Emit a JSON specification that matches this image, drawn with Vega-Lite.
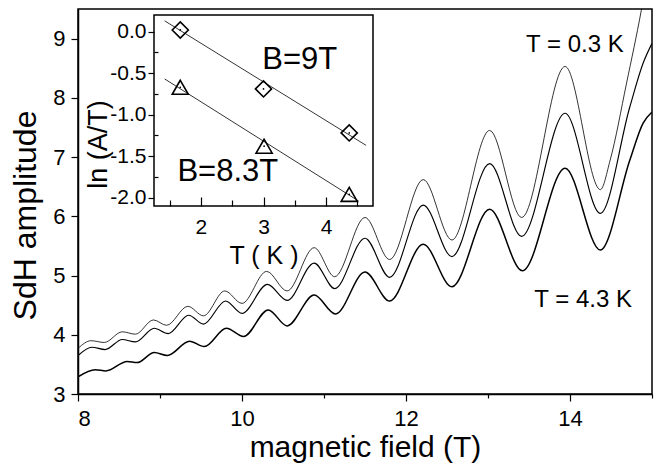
{
  "$schema": "https://vega.github.io/schema/vega-lite/v6.json",
  "width": 574,
  "height": 385,
  "autosize": "none",
  "padding": {"left": 78, "top": 9, "right": 7, "bottom": 74},
  "config": {
    "font": "Liberation Sans",
    "view": {"stroke": "black", "strokeWidth": 1.5},
    "axis": {"domainColor": "black", "domainWidth": 1.5, "tickColor": "black", "tickWidth": 1.2, "labelColor": "black", "titleColor": "black", "grid": false, "titleFontWeight": "normal", "labelFont": "Liberation Sans", "titleFont": "Liberation Sans", "labelOverlap": false}
  },
  "datasets": {
    "curves": [
      {"B": 8.0, "amp": 3.77, "series": "0.3 K"}, {"B": 8.16, "amp": 3.90, "series": "0.3 K"}, {"B": 8.32, "amp": 3.87, "series": "0.3 K"}, {"B": 8.54, "amp": 4.05, "series": "0.3 K"}, {"B": 8.70, "amp": 4.01, "series": "0.3 K"}, {"B": 8.92, "amp": 4.25, "series": "0.3 K"}, {"B": 9.08, "amp": 4.16, "series": "0.3 K"}, {"B": 9.34, "amp": 4.48, "series": "0.3 K"}, {"B": 9.53, "amp": 4.32, "series": "0.3 K"}, {"B": 9.79, "amp": 4.74, "series": "0.3 K"}, {"B": 10.0, "amp": 4.53, "series": "0.3 K"}, {"B": 10.30, "amp": 5.07, "series": "0.3 K"}, {"B": 10.55, "amp": 4.74, "series": "0.3 K"}, {"B": 10.88, "amp": 5.47, "series": "0.3 K"}, {"B": 11.13, "amp": 4.98, "series": "0.3 K"}, {"B": 11.50, "amp": 5.98, "series": "0.3 K"}, {"B": 11.80, "amp": 5.27, "series": "0.3 K"}, {"B": 12.21, "amp": 6.62, "series": "0.3 K"}, {"B": 12.56, "amp": 5.60, "series": "0.3 K"}, {"B": 13.02, "amp": 7.45, "series": "0.3 K"}, {"B": 13.41, "amp": 5.98, "series": "0.3 K"}, {"B": 13.94, "amp": 8.53, "series": "0.3 K"}, {"B": 14.37, "amp": 6.45, "series": "0.3 K"}, {"B": 14.49, "amp": 6.95, "series": "0.3 K"}, {"B": 14.69, "amp": 8.25, "series": "0.3 K"}, {"B": 14.87, "amp": 9.48, "series": "0.3 K"}, {"B": 14.95, "amp": 10.1, "series": "0.3 K"},
      {"B": 8.0, "amp": 3.65, "series": "mid"}, {"B": 8.17, "amp": 3.79, "series": "mid"}, {"B": 8.33, "amp": 3.75, "series": "mid"}, {"B": 8.54, "amp": 3.92, "series": "mid"}, {"B": 8.70, "amp": 3.88, "series": "mid"}, {"B": 8.93, "amp": 4.11, "series": "mid"}, {"B": 9.10, "amp": 4.02, "series": "mid"}, {"B": 9.35, "amp": 4.33, "series": "mid"}, {"B": 9.53, "amp": 4.18, "series": "mid"}, {"B": 9.80, "amp": 4.57, "series": "mid"}, {"B": 10.0, "amp": 4.36, "series": "mid"}, {"B": 10.31, "amp": 4.85, "series": "mid"}, {"B": 10.55, "amp": 4.58, "series": "mid"}, {"B": 10.88, "amp": 5.21, "series": "mid"}, {"B": 11.13, "amp": 4.78, "series": "mid"}, {"B": 11.50, "amp": 5.63, "series": "mid"}, {"B": 11.80, "amp": 4.97, "series": "mid"}, {"B": 12.21, "amp": 6.19, "series": "mid"}, {"B": 12.56, "amp": 5.32, "series": "mid"}, {"B": 13.02, "amp": 6.89, "series": "mid"}, {"B": 13.41, "amp": 5.66, "series": "mid"}, {"B": 13.94, "amp": 7.74, "series": "mid"}, {"B": 14.37, "amp": 6.05, "series": "mid"}, {"B": 14.73, "amp": 7.85, "series": "mid"}, {"B": 14.89, "amp": 8.58, "series": "mid"}, {"B": 15.0, "amp": 8.92, "series": "mid"},
      {"B": 8.0, "amp": 3.29, "series": "4.3 K"}, {"B": 8.21, "amp": 3.41, "series": "4.3 K"}, {"B": 8.34, "amp": 3.39, "series": "4.3 K"}, {"B": 8.60, "amp": 3.55, "series": "4.3 K"}, {"B": 8.72, "amp": 3.53, "series": "4.3 K"}, {"B": 8.93, "amp": 3.70, "series": "4.3 K"}, {"B": 9.09, "amp": 3.65, "series": "4.3 K"}, {"B": 9.36, "amp": 3.89, "series": "4.3 K"}, {"B": 9.54, "amp": 3.80, "series": "4.3 K"}, {"B": 9.81, "amp": 4.11, "series": "4.3 K"}, {"B": 10.02, "amp": 3.97, "series": "4.3 K"}, {"B": 10.32, "amp": 4.42, "series": "4.3 K"}, {"B": 10.55, "amp": 4.15, "series": "4.3 K"}, {"B": 10.88, "amp": 4.67, "series": "4.3 K"}, {"B": 11.14, "amp": 4.35, "series": "4.3 K"}, {"B": 11.50, "amp": 5.06, "series": "4.3 K"}, {"B": 11.80, "amp": 4.57, "series": "4.3 K"}, {"B": 12.21, "amp": 5.53, "series": "4.3 K"}, {"B": 12.56, "amp": 4.81, "series": "4.3 K"}, {"B": 13.02, "amp": 6.12, "series": "4.3 K"}, {"B": 13.42, "amp": 5.08, "series": "4.3 K"}, {"B": 13.94, "amp": 6.81, "series": "4.3 K"}, {"B": 14.37, "amp": 5.43, "series": "4.3 K"}, {"B": 14.73, "amp": 6.95, "series": "4.3 K"}, {"B": 14.89, "amp": 7.57, "series": "4.3 K"}, {"B": 15.0, "amp": 7.76, "series": "4.3 K"}
    ],
    "points": [
      {"T": 1.67, "lnAT": 0.02, "field": "9T"}, {"T": 3.0, "lnAT": -0.69, "field": "9T"}, {"T": 4.37, "lnAT": -1.22, "field": "9T"},
      {"T": 1.67, "lnAT": -0.67, "field": "8.3T"}, {"T": 3.01, "lnAT": -1.38, "field": "8.3T"}, {"T": 4.37, "lnAT": -1.96, "field": "8.3T"}
    ],
    "fits": [
      {"T": 1.42, "lnAT": 0.13, "field": "9T"}, {"T": 4.64, "lnAT": -1.37, "field": "9T"},
      {"T": 1.42, "lnAT": -0.57, "field": "8.3T"}, {"T": 4.52, "lnAT": -2.04, "field": "8.3T"}
    ],
    "one": [{}]
  },
  "layer": [
    {
      "layer": [
        {
          "data": {"name": "curves"},
          "mark": {"type": "line", "interpolate": "monotone", "clip": true, "color": "black"},
          "encoding": {
            "x": {"field": "B", "type": "quantitative", "title": "magnetic field (T)",
              "scale": {"domain": [8, 15], "nice": false, "zero": false},
              "axis": {"orient": "bottom", "values": [8, 9, 10, 11, 12, 13, 14, 15], "format": "d",
                "labelExpr": "datum.value % 2 == 0 ? datum.label : ''",
                "tickSize": {"condition": {"test": "datum.value % 2 == 0", "value": 7}, "value": 4},
                "labelFontSize": 22, "labelPadding": 7, "titleFontSize": 30, "titleY": 53, "titleBaseline": "middle"}},
            "y": {"field": "amp", "type": "quantitative", "title": "SdH amplitude",
              "scale": {"domain": [3, 9.5], "nice": false, "zero": false},
              "axis": {"orient": "left", "values": [3, 3.5, 4, 4.5, 5, 5.5, 6, 6.5, 7, 7.5, 8, 8.5, 9], "format": "d",
                "labelExpr": "datum.value % 1 == 0 ? datum.label : ''",
                "tickSize": {"condition": {"test": "datum.value % 1 == 0", "value": 7}, "value": 4},
                "labelFontSize": 22, "labelPadding": 6, "titleFontSize": 32, "titleX": -53, "titleY": 206, "titleBaseline": "middle"}},
            "detail": {"field": "series"},
            "strokeWidth": {"field": "series", "type": "nominal", "scale": {"domain": ["0.3 K", "mid", "4.3 K"], "range": [0.8, 1.5, 2.1]}, "legend": null}
          }
        },
        {
          "data": {"name": "one"},
          "mark": {"type": "text", "fontSize": 24, "align": "center", "baseline": "middle", "color": "black"},
          "encoding": {"x": {"datum": 14.06, "type": "quantitative"}, "y": {"datum": 8.90, "type": "quantitative"}, "text": {"value": "T = 0.3 K"}}
        },
        {
          "data": {"name": "one"},
          "mark": {"type": "text", "fontSize": 24, "align": "center", "baseline": "middle", "color": "black"},
          "encoding": {"x": {"datum": 14.16, "type": "quantitative"}, "y": {"datum": 4.59, "type": "quantitative"}, "text": {"value": "T = 4.3 K"}}
        }
      ]
    },
    {
      "layer": [
        {
          "data": {"name": "fits"},
          "mark": {"type": "line", "color": "black", "strokeWidth": 0.8},
          "encoding": {
            "x": {"field": "T", "type": "quantitative", "title": "T ( K )",
              "scale": {"domain": [1.25, 4.75], "range": [76, 295], "nice": false, "zero": false},
              "axis": {"orient": "bottom", "offset": -188, "zindex": 1, "values": [1.5, 2, 2.5, 3, 3.5, 4, 4.5],
                "labelExpr": "datum.value % 1 == 0 ? format(datum.value, 'd') : ''",
                "labelOverlap": false, "labelBound": false, "labelFlush": false,
                "tickSize": {"condition": {"test": "datum.value % 1 == 0", "value": -9}, "value": -6},
                "labelFontSize": 21, "labelPadding": 19, "titleFontSize": 25, "titleY": 49, "titleBaseline": "middle", "domain": false}},
            "y": {"field": "lnAT", "type": "quantitative", "title": "ln (A/T)",
              "scale": {"domain": [-2.1, 0.2], "range": [197, 6], "nice": false, "zero": false},
              "axis": {"orient": "left", "offset": -76, "zindex": 1, "values": [-2, -1.75, -1.5, -1.25, -1, -0.75, -0.5, -0.25, 0],
                "labelExpr": "abs(datum.value * 2 - round(datum.value * 2)) < 0.01 ? replace(format(datum.value, '.1f'), '\u2212', '-') : ''",
                "labelOverlap": false, "labelBound": false, "labelFlush": false,
                "tickSize": {"condition": {"test": "abs(datum.value * 2 - round(datum.value * 2)) < 0.01", "value": 6}, "value": -4},
                "labelFontSize": 21, "labelPadding": 2, "titleFontSize": 27, "titleX": -56, "titleY": 135, "titleBaseline": "middle", "domain": false}},
            "detail": {"field": "field"}
          }
        },
        {
          "data": {"name": "one"},
          "mark": {"type": "rect", "fill": null, "stroke": "black", "strokeWidth": 1.5},
          "encoding": {
            "x": {"datum": 1.25, "type": "quantitative"},
            "x2": {"datum": 4.75},
            "y": {"datum": -2.1, "type": "quantitative"},
            "y2": {"datum": 0.2}
          }
        },
        {
          "data": {"name": "points"},
          "mark": {"type": "point", "filled": false, "color": "black", "strokeWidth": 1.6, "size": 260, "opacity": 1},
          "encoding": {
            "x": {"field": "T", "type": "quantitative"},
            "y": {"field": "lnAT", "type": "quantitative"},
            "shape": {"field": "field", "type": "nominal", "scale": {"domain": ["9T", "8.3T"], "range": ["diamond", "triangle-up"]}, "legend": null}
          }
        },
        {
          "data": {"name": "points"},
          "mark": {"type": "point", "filled": true, "color": "black", "size": 3, "opacity": 1},
          "encoding": {
            "x": {"field": "T", "type": "quantitative"},
            "y": {"field": "lnAT", "type": "quantitative"}
          }
        },
        {
          "data": {"name": "one"},
          "mark": {"type": "text", "fontSize": 31, "align": "center", "baseline": "middle", "color": "black"},
          "encoding": {"x": {"datum": 3.58, "type": "quantitative"}, "y": {"datum": -0.34, "type": "quantitative"}, "text": {"value": "B=9T"}}
        },
        {
          "data": {"name": "one"},
          "mark": {"type": "text", "fontSize": 31, "align": "center", "baseline": "middle", "color": "black"},
          "encoding": {"x": {"datum": 2.43, "type": "quantitative"}, "y": {"datum": -1.69, "type": "quantitative"}, "text": {"value": "B=8.3T"}}
        }
      ]
    }
  ],
  "resolve": {"scale": {"x": "independent", "y": "independent"}, "axis": {"x": "independent", "y": "independent"}}
}
